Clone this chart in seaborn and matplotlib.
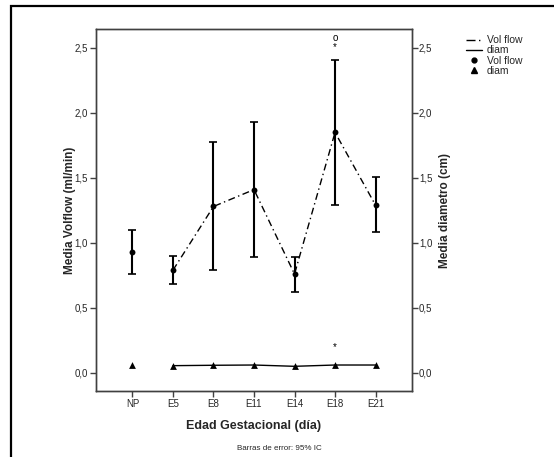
import numpy as np
import pandas as pd
import matplotlib
matplotlib.use("Agg")
import matplotlib.pyplot as plt
import matplotlib.patches as mpatches
from matplotlib.lines import Line2D
from matplotlib.ticker import FuncFormatter
import seaborn as sns

# ---- data ----
categories = ["NP", "E5", "E8", "E11", "E14", "E18", "E21"]
volflow_mean = [0.93, 0.79, 1.28, 1.41, 0.76, 1.85, 1.29]
volflow_lo = [0.76, 0.68, 0.79, 0.89, 0.62, 1.29, 1.08]
volflow_hi = [1.10, 0.90, 1.78, 1.93, 0.89, 2.41, 1.51]
diam_mean = [0.06, 0.055, 0.058, 0.06, 0.05, 0.06, 0.06]
# outlier symbols shown above E18
outlier_cat = ["E18", "E18", "E18"]
outlier_val = [2.58, 2.51, 0.20]
outlier_sym = ["o", "*", "*"]

sns.set_style("white")
plt.rcParams["font.family"] = ["Liberation Sans", "DejaVu Sans"]

W, H = 554, 457
fig = plt.figure(figsize=(W / 100, H / 100), dpi=100)

# outer frame
fig.patches.append(mpatches.Rectangle((11 / W, -0.1), 1.2, 1.1 - 6 / H,
                                      transform=fig.transFigure, fill=False,
                                      edgecolor="black", linewidth=1.6, zorder=0))

ax = fig.add_axes([96 / W, 1 - 391 / H, (412 - 96) / W, (391 - 29) / H])
ax2 = ax.twinx()

xpos = np.arange(len(categories))
df = pd.DataFrame({"x": xpos, "cat": categories, "vol": volflow_mean,
                   "lo": volflow_lo, "hi": volflow_hi, "diam": diam_mean})
conn = df[df["cat"] != "NP"]

# Vol flow dash-dot line (E5..E21)
sns.lineplot(data=conn, x="x", y="vol", ax=ax, color="black", linewidth=1.0,
             linestyle=(0, (5, 2.5, 1, 2.5)), estimator=None, sort=False)
# error bars
vol = np.array(volflow_mean)
ax.errorbar(xpos, vol, yerr=[vol - np.array(volflow_lo), np.array(volflow_hi) - vol],
            fmt="none", ecolor="black", elinewidth=1.5, capsize=2.6, capthick=1.2,
            zorder=3)
sns.scatterplot(data=df, x="x", y="vol", ax=ax, color="black", marker="o", s=18,
                edgecolor="black", linewidth=0, zorder=4)

# diam on twin axis
sns.lineplot(data=conn, x="x", y="diam", ax=ax2, color="black", linewidth=1.0,
             estimator=None, sort=False)
sns.scatterplot(data=df, x="x", y="diam", ax=ax2, color="black", marker="^", s=24,
                edgecolor="black", linewidth=0, zorder=4)

# outlier symbols
for c, v, s in zip(outlier_cat, outlier_val, outlier_sym):
    ax.text(categories.index(c), v, s, ha="center", va="center", fontsize=7,
            color="black")

ylim = (-0.14, 2.646)
for a in (ax, ax2):
    a.set_ylim(*ylim)
    a.set_yticks([0, 0.5, 1.0, 1.5, 2.0, 2.5])
    a.yaxis.set_major_formatter(FuncFormatter(lambda v, p: f"{v:.1f}".replace(".", ",")))
    for sp in a.spines.values():
        sp.set_color("#404040")
        sp.set_linewidth(1.0)
ax.set_xlim(-0.9, 6.9)
ax.set_xticks(xpos)
ax.set_xticklabels(categories)

ax.tick_params(axis="both", direction="out", length=4, width=1, color="#404040",
               labelsize=7, pad=2, left=True, bottom=True)
ax2.tick_params(axis="y", direction="out", length=4, width=1, color="#404040",
                labelsize=7, pad=1, right=True)

ax.set_xlabel("Edad Gestacional (día)", fontsize=9, fontweight="bold", labelpad=8)
ax.set_ylabel("Media Volflow (ml/min)", fontsize=8.5, fontweight="bold", labelpad=-1)
ax2.set_ylabel("Media diametro (cm)", fontsize=8.5, fontweight="bold", labelpad=5)

fig.text(279 / W, 1 - 449 / H, "Barras de error: 95% IC", fontsize=5.8,
         ha="center", va="center")

handles = [
    Line2D([], [], color="black", linewidth=1.0, linestyle=(0, (6.5, 2.5, 1, 10))),
    Line2D([], [], color="black", linewidth=1.0),
    Line2D([], [], color="black", marker="o", linestyle="none", markersize=3.5),
    Line2D([], [], color="black", marker="^", linestyle="none", markersize=4),
]
fig.legend(handles, ["Vol flow", "diam", "Vol flow", "diam"],
           loc="upper left", bbox_to_anchor=(461 / W, 1 - 30 / H), frameon=False,
           fontsize=7.5, handlelength=1.5, handletextpad=0.5, labelspacing=0.02,
           borderpad=0)

fig.savefig("out.png", dpi=100)
